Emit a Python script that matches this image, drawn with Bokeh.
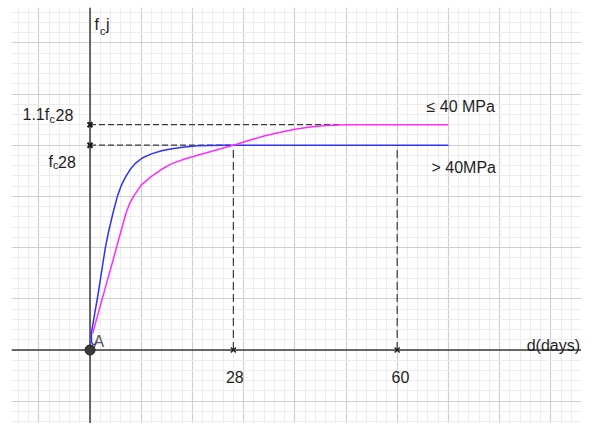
from bokeh.plotting import figure
from bokeh.models import SingleIntervalTicker, Span, Range1d
from bokeh.core.properties import value
from bokeh.embed import file_html
from bokeh.resources import INLINE

# ---------------- data ----------------
# unit: f_c28 = 40 on the vertical scale, days on the horizontal scale
FC28 = 40.0
RATIO_MAX = 1.1
KEY_DAYS = [28, 60]
KEY_DAY_LABELS = ["28", "60"]

# fc > 40 MPa (blue) -- includes the small hook next to point A
BLUE_DAYS = [1.35, 1.05, 0.6, 0.3, 0.28, 0.35, 0.6, 1.0, 1.5, 2.0, 2.5, 3.0, 3.6,
             4.6, 5.4, 6.1, 6.9, 7.8, 8.8, 10.2, 12.0, 14.0, 16.0, 18.5, 21.0, 26.0, 70.0]
BLUE_FC = [1.8, 1.15, 1.05, 1.5, 2.8, 3.8, 5.2, 7.6, 10.4, 13.6, 16.8, 20.0, 23.0,
           27.2, 30.2, 32.1, 33.7, 35.2, 36.4, 37.5, 38.3, 38.9, 39.3, 39.65, 39.9, 40.0, 40.0]

# fc <= 40 MPa (magenta)
MAG_DAYS = [0.55, 1.0, 1.7, 2.4, 3.3, 4.3, 5.3, 6.0, 7.0, 7.7, 8.5, 10.0, 12.0, 14.0,
            16.0, 18.5, 21.2, 25.7, 28.0, 31.0, 34.0, 37.0, 40.0, 43.0, 46.0, 50.0, 70.0]
MAG_FC = [3.3, 5.0, 7.5, 10.0, 13.3, 16.8, 20.5, 23.0, 26.6, 28.5, 30.0, 32.2, 33.9, 35.3,
          36.4, 37.3, 38.1, 39.35, 40.0, 40.9, 41.8, 42.5, 43.1, 43.55, 43.85, 44.0, 44.0]

LABEL_HIGH = "≤ 40 MPa"
LABEL_LOW = "> 40MPa"
X_LABEL = "d(days)"
POINT_LABEL = "A"

# ---------------- figure ----------------
PX = 5.12  # screen pixels per unit (same scale on both axes)
W, H = 581, 423
BL, BT = 11, 7
FRAME_W, FRAME_H = W - BL, H - BT
X0 = (BL - 89.5) / PX
Y1 = (349.5 - BT) / PX

p = figure(width=W, height=H,
           x_range=Range1d(X0, X0 + FRAME_W / PX),
           y_range=Range1d(Y1 - FRAME_H / PX, Y1),
           x_axis_location=None, y_axis_location=None,
           toolbar_location=None, output_backend="svg",
           min_border_left=BL, min_border_right=0,
           min_border_top=BT, min_border_bottom=0)
p.outline_line_color = None
p.background_fill_color = "white"

for g in (p.xgrid, p.ygrid):
    g.ticker = SingleIntervalTicker(interval=10, num_minor_ticks=5)
    g.grid_line_color = "#cfcfcf"
    g.grid_line_width = 1.2
    g.minor_grid_line_color = "#ececec"
    g.minor_grid_line_width = 1

# axes through the origin
p.add_layout(Span(location=0, dimension="width", line_color="#3c3c3c",
                  line_width=1.5, level="underlay"))
p.add_layout(Span(location=0, dimension="height", line_color="#3c3c3c",
                  line_width=1.5, level="underlay"))

top_fc = FC28 * RATIO_MAX
plateau_day = MAG_DAYS[MAG_FC.index(max(MAG_FC))]

# dashed guides
p.line([0, plateau_day - 1], [top_fc, top_fc], line_color="#3a3a3a",
       line_width=1.3, line_dash="6 3")
p.line([0, KEY_DAYS[0]], [FC28, FC28], line_color="#3a3a3a",
       line_width=1.3, line_dash="6 3")
for d in KEY_DAYS:
    p.line([d, d], [0, FC28], line_color="#3a3a3a", line_width=1.2,
           line_dash="8 4")

# curves
p.line(BLUE_DAYS, BLUE_FC, line_color="#3030ff", line_width=1.5,
       line_join="round")
p.line(MAG_DAYS, MAG_FC, line_color="#ff2bff", line_width=1.5,
       line_join="round")

# cross markers
p.scatter([0, 0], [top_fc, FC28], marker="x", size=7, line_color="#1a1a1a",
          line_width=2)
p.scatter(KEY_DAYS, [0, 0], marker="x", size=7, line_color="#1a1a1a",
          line_width=1.4)

# point A
p.scatter([0], [0], marker="circle", size=10, fill_color="#3a3a3a",
          line_color="#1a1a1a", line_width=1)

FONT = value("Liberation Sans")


def lab(ax, ay, dx, dy, txt, size="16px", color="#1e1e1e", align="left"):
    """text anchored at data point (ax, ay), shifted dx px right, dy px down"""
    p.text([ax + dx / PX], [ay - dy / PX], text=[txt], text_font=FONT,
           text_font_size=size, text_color=color,
           text_align=align, text_baseline="alphabetic")


# y-axis title f_c j
lab(0, 0, 4.5, -325.5, "f")
lab(0, 0, 10.0, -319.5, "c", size="11px")
lab(0, 0, 16.0, -325.5, "j")

# 1.1 f_c 28
lab(0, top_fc, -67.5, -10.2, "1.1f")
lab(0, top_fc, -40.5, -6.2, "c", size="11px")
lab(0, top_fc, -34.5, -10.2, "28")

# f_c 28
lab(0, FC28, -41.5, 16.3, "f")
lab(0, FC28, -37.0, 19.8, "c", size="11px")
lab(0, FC28, -32.0, 16.3, "28")

# series labels
lab(MAG_DAYS[-1], MAG_FC[-1], -21.9, -18.2, LABEL_HIGH)
lab(BLUE_DAYS[-1], BLUE_FC[-1], -16.9, 22.3, LABEL_LOW)

# day labels
lab(KEY_DAYS[0], 0, -7.4, 26.5, KEY_DAY_LABELS[0])
lab(KEY_DAYS[1], 0, -5.7, 26.5, KEY_DAY_LABELS[1])

# point label and x-axis title
lab(0, 0, 3.5, -8.5, POINT_LABEL, color="#555555")
lab(0, 0, 490.0, -4.5, X_LABEL, align="right")

open("out.html", "w").write(file_html(p, INLINE))
